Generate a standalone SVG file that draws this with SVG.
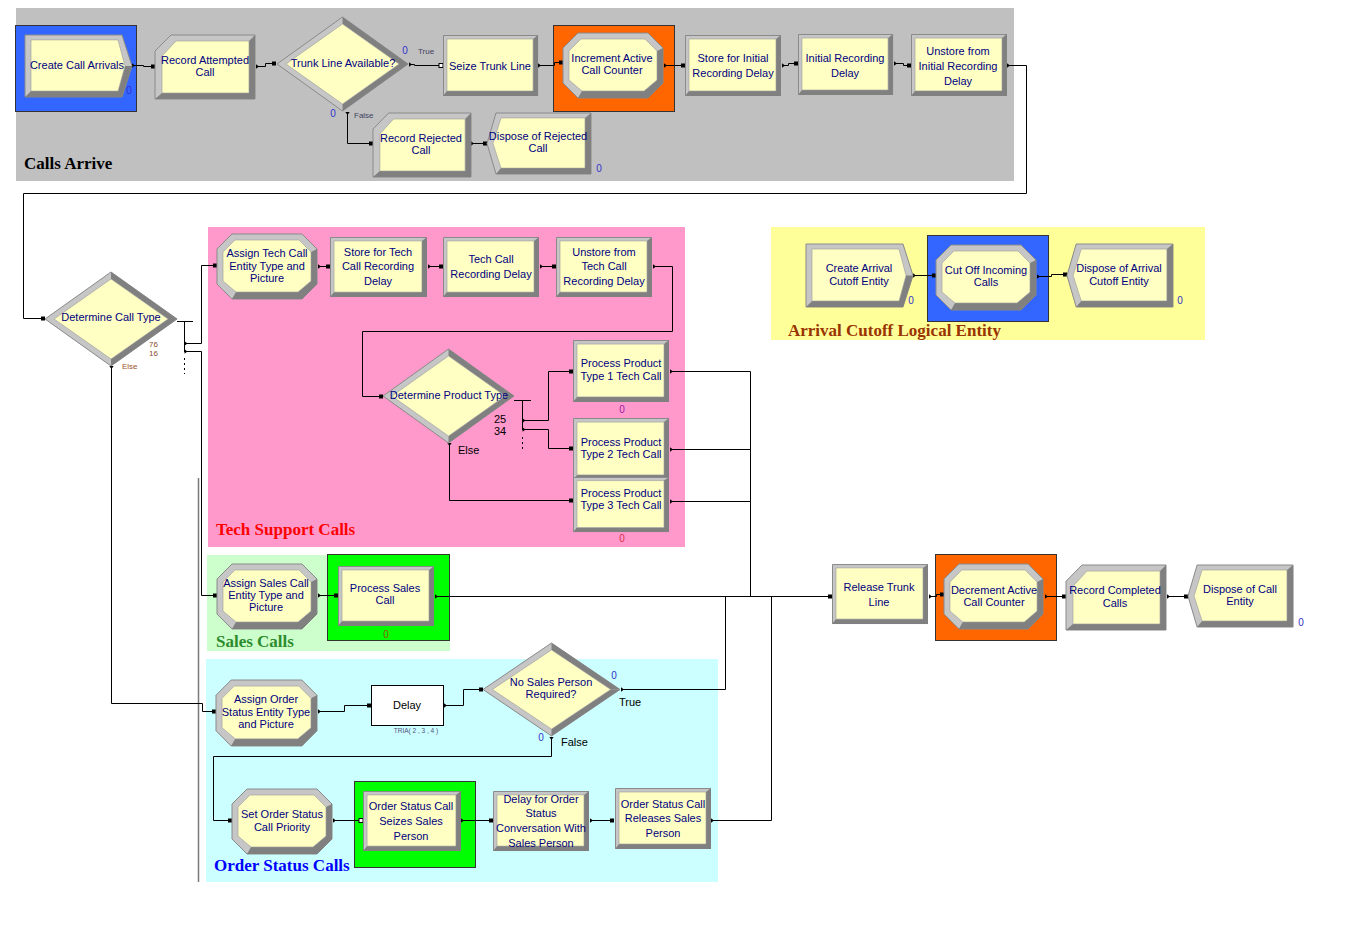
<svg xmlns="http://www.w3.org/2000/svg" xmlns:xlink="http://www.w3.org/1999/xlink" width="1360" height="940" viewBox="0 0 1360 940">
<style>
.t{font-family:"Liberation Sans",Arial,sans-serif;font-size:11px;fill:#00007f;text-anchor:middle}
.lbl{font-family:"Liberation Serif","Times New Roman",serif;font-weight:bold;font-size:17px}
.cnt{font-family:"Liberation Sans",Arial,sans-serif;font-size:10px;fill:#3333cc;text-anchor:middle}
.sm{font-family:"Liberation Sans",Arial,sans-serif;font-size:8px}
.bt{font-family:"Liberation Sans",Arial,sans-serif;font-size:11px;fill:#000}
.c{fill:none;stroke:#000;stroke-width:1}
.lt{fill:#c6c6c6;stroke:#8a8a8a;stroke-width:1}
.dk{fill:#808080}
.yl{fill:#ffffc4;stroke:#9a9a9a;stroke-width:0.6}
.hl{stroke:#333;stroke-width:1}
</style>
<defs>
<marker id="in" markerUnits="userSpaceOnUse" markerWidth="6" markerHeight="6" viewBox="0 0 6 6" refX="3" refY="3" orient="auto"><rect x="1" y="1" width="4" height="4" fill="#000"/></marker>
<marker id="inw" markerUnits="userSpaceOnUse" markerWidth="6" markerHeight="6" viewBox="0 0 6 6" refX="3" refY="3" orient="auto"><rect x="1" y="1" width="4" height="4" fill="#fff" stroke="#000" stroke-width="1"/></marker>
<marker id="out" markerUnits="userSpaceOnUse" markerWidth="6" markerHeight="6" viewBox="0 0 6 6" refX="0.5" refY="3" orient="auto"><path d="M0.5,0.8 L3.5,3 L0.5,5.2 Z" fill="#000"/></marker>
<g id="proc">
<rect x="0.5" y="0.5" width="95" height="60" class="lt" vector-effect="non-scaling-stroke"/>
<polygon points="96,0 96,61 0,61 4,56 91,56 91,4" class="dk"/>
<rect x="4" y="4" width="87" height="52" class="yl" vector-effect="non-scaling-stroke"/>
</g>
<g id="asg">
<polygon points="15,0 85,0 100,15 100,50 85,65 15,65 0,50 0,15" class="lt" vector-effect="non-scaling-stroke"/>
<polygon points="100,15 100,50 85,65 15,65 19,58 81,58 94,47 94,18" class="dk"/>
<polygon points="18,6 82,6 94,18 94,47 81,58 19,58 6,47 6,18" class="yl" vector-effect="non-scaling-stroke"/>
</g>
<g id="rec">
<polygon points="16,0 100,0 100,64 0,64 0,16" class="lt" vector-effect="non-scaling-stroke"/>
<polygon points="100,0 100,64 0,64 7,58 94,58 94,6" class="dk"/>
<polygon points="21,6 94,6 94,58 7,58 7,21" class="yl" vector-effect="non-scaling-stroke"/>
</g>
<g id="cre">
<polygon points="0,0 97,0 107,31.5 97,63 0,63" class="lt" vector-effect="non-scaling-stroke"/>
<polygon points="107,31.5 97,63 0,63 6,57 93,57 100,31.5" class="dk"/>
<polygon points="6,5 93,5 100,31.5 93,57 6,57" class="yl" vector-effect="non-scaling-stroke"/>
</g>
<g id="dis">
<polygon points="9,0 104,0 104,62 9,62 0,31" class="lt" vector-effect="non-scaling-stroke"/>
<polygon points="104,0 104,62 9,62 14,56 98,56 98,5" class="dk"/>
<polygon points="14,5 98,5 98,56 14,56 6,31" class="yl" vector-effect="non-scaling-stroke"/>
</g>
<g id="dec">
<polygon points="0,47 65.5,0 131,47 65.5,94" class="lt" vector-effect="non-scaling-stroke"/>
<polygon points="65.5,0 131,47 122,47 65.5,7" class="dk"/>
<polygon points="131,47 65.5,94 65.5,87 122,47" class="dk"/>
<polygon points="9,47 65.5,7 122,47 65.5,87" class="yl" vector-effect="non-scaling-stroke"/>
</g>
</defs>

<g id="panels">
<rect x="16" y="8" width="998" height="173" fill="#c0c0c0"/>
<rect x="208" y="227" width="477" height="320" fill="#ff99cc"/>
<rect x="771" y="227" width="434" height="113" fill="#ffff99"/>
<rect x="207" y="555" width="243" height="96" fill="#ccffcc"/>
<rect x="206" y="659" width="512" height="223" fill="#ccffff"/>
<rect x="15.5" y="25.5" width="121" height="86" fill="#3366ff" class="hl"/>
<rect x="553.5" y="25.5" width="121" height="86" fill="#ff6600" class="hl"/>
<rect x="927.5" y="235.5" width="121" height="86" fill="#3366ff" class="hl"/>
<rect x="327.5" y="554.5" width="122" height="86" fill="#00ff00" class="hl"/>
<rect x="935.5" y="554.5" width="121" height="86" fill="#ff6600" class="hl"/>
<rect x="354.5" y="781.5" width="121" height="86" fill="#00ff00" class="hl"/>
<line x1="198.5" y1="478" x2="198.5" y2="882" stroke="#7a7a7a" stroke-width="1.5"/>
</g>

<g id="connectors">
<path class="c" d="M132,65.5 H143.5 V66.5 H153" marker-start="url(#out)" marker-end="url(#in)"/>
<path class="c" d="M256,66.5 H265.5 V63.5 H274" marker-start="url(#out)" marker-end="url(#in)"/>
<path class="c" d="M409,64.5 H414.5 V65.5 H441" marker-start="url(#out)" marker-end="url(#inw)"/>
<path class="c" d="M347.5,112 V143.5 H371" marker-start="url(#out)" marker-end="url(#in)"/>
<path class="c" d="M471,143.5 H485" marker-start="url(#out)" marker-end="url(#in)"/>
<path class="c" d="M538,65.5 H554.5 V62.5 H561" marker-start="url(#out)" marker-end="url(#in)"/>
<path class="c" d="M664,65.5 H683" marker-start="url(#out)" marker-end="url(#in)"/>
<path class="c" d="M782,65.5 H788.5 V63.5 H796" marker-start="url(#out)" marker-end="url(#in)"/>
<path class="c" d="M894,63.5 H903.5 V65.5 H909" marker-start="url(#out)" marker-end="url(#in)"/>
<path class="c" d="M1007,65.5 H1026.5 V193.5 H23.5 V318.5 H43" marker-start="url(#out)" marker-end="url(#in)"/>
<path class="c" d="M177,321.5 H193 M184.5,321.5 V352"/>
<path class="c" d="M184.5,358 V374" stroke-dasharray="2,3"/>
<path class="c" d="M184.5,343.5 H201.5 V265.5 H215" marker-start="url(#out)" marker-end="url(#in)"/>
<path class="c" d="M184.5,351.5 H201.5 V595.5 H215" marker-start="url(#out)" marker-end="url(#in)"/>
<path class="c" d="M111.5,366 V703.5 H202.5 V711.5 H214" marker-start="url(#out)" marker-end="url(#in)"/>
<path class="c" d="M318,266.5 H328" marker-start="url(#out)" marker-end="url(#in)"/>
<path class="c" d="M428,266.5 H441" marker-start="url(#out)" marker-end="url(#in)"/>
<path class="c" d="M540,266.5 H554" marker-start="url(#out)" marker-end="url(#in)"/>
<path class="c" d="M653,266.5 H672.5 V331.5 H362.5 V396.5 H381" marker-start="url(#out)" marker-end="url(#in)"/>
<path class="c" d="M514,400.5 H531 M522.5,400.5 V430"/>
<path class="c" d="M522.5,437 V452" stroke-dasharray="2,3"/>
<path class="c" d="M522.5,420.5 H548.5 V371.5 H571" marker-start="url(#out)" marker-end="url(#in)"/>
<path class="c" d="M522.5,429.5 H548.5 V448.5 H571" marker-start="url(#out)" marker-end="url(#in)"/>
<path class="c" d="M449.5,443 V500.5 H571" marker-start="url(#out)" marker-end="url(#in)"/>
<path class="c" d="M670,371.5 H750.5" marker-start="url(#out)"/>
<path class="c" d="M670,449.5 H750.5" marker-start="url(#out)"/>
<path class="c" d="M670,501.5 H750.5" marker-start="url(#out)"/>
<path class="c" d="M750.5,371.5 V596.5"/>
<path class="c" d="M318,595.5 H336" marker-start="url(#out)" marker-end="url(#in)"/>
<path class="c" d="M435,596.5 H830" marker-start="url(#out)" marker-end="url(#in)"/>
<path class="c" d="M621,689.5 H725.5 V596.5" marker-start="url(#out)"/>
<path class="c" d="M711,820.5 H771.5 V596.5" marker-start="url(#out)"/>
<path class="c" d="M929,596.5 H936.5 V594.5 H942" marker-start="url(#out)" marker-end="url(#in)"/>
<path class="c" d="M1045,596.5 H1064" marker-start="url(#out)" marker-end="url(#in)"/>
<path class="c" d="M1167,596.5 H1186" marker-start="url(#out)" marker-end="url(#in)"/>
<path class="c" d="M318,711.5 H344.5 V705.5 H369" marker-start="url(#out)" marker-end="url(#in)"/>
<path class="c" d="M444,705.5 H463.5 V689.5 H481" marker-start="url(#out)" marker-end="url(#in)"/>
<path class="c" d="M551.5,737 V756.5 H213.5 V820.5 H230" marker-start="url(#out)" marker-end="url(#in)"/>
<path class="c" d="M333,820.5 H361" marker-start="url(#out)" marker-end="url(#inw)"/>
<path class="c" d="M461,820.5 H491" marker-start="url(#out)" marker-end="url(#in)"/>
<path class="c" d="M590,820.5 H612" marker-start="url(#out)" marker-end="url(#in)"/>
<path class="c" d="M913,275.5 H934" marker-start="url(#out)" marker-end="url(#in)"/>
<path class="c" d="M1037,276.5 H1051.5 V274.5 H1065" marker-start="url(#out)" marker-end="url(#in)"/>
</g>

<g id="n_create_call_arrivals"><use href="#cre" transform="translate(25,35) scale(1,0.984)"/><text class="t" x="77" y="69">Create Call Arrivals</text><text class="cnt" x="129" y="94">0</text></g>
<g id="n_record_attempted"><use href="#rec" transform="translate(155,35)"/><text class="t" x="205" y="64">Record Attempted</text><text class="t" x="205" y="76">Call</text></g>
<g id="n_trunk_available"><use href="#dec" transform="translate(277,17)"/><text class="t" x="343" y="67">Trunk Line Available?</text><text class="cnt" x="405" y="54">0</text><text class="sm" x="418" y="54" fill="#404060" font-size="7">True</text><text class="cnt" x="333" y="117">0</text><text class="sm" x="354" y="118" fill="#404060" font-size="7">False</text></g>
<g id="n_seize_trunk"><use href="#proc" transform="translate(443,35) scale(0.99,1)"/><text class="t" x="490" y="70">Seize Trunk Line</text></g>
<g id="n_increment"><use href="#asg" transform="translate(563,33)"/><text class="t" x="612" y="62">Increment Active</text><text class="t" x="612" y="74">Call Counter</text></g>
<g id="n_store_initial"><use href="#proc" transform="translate(685,35)"/><text class="t" x="733" y="62">Store for Initial</text><text class="t" x="733" y="77">Recording Delay</text></g>
<g id="n_initial_delay"><use href="#proc" transform="translate(798,34) scale(0.99,1)"/><text class="t" x="845" y="62">Initial Recording</text><text class="t" x="845" y="77">Delay</text></g>
<g id="n_unstore_initial"><use href="#proc" transform="translate(911,34) scale(1,1.016)"/><text class="t" x="958" y="55">Unstore from</text><text class="t" x="958" y="70">Initial Recording</text><text class="t" x="958" y="85">Delay</text></g>
<g id="n_record_rejected"><use href="#rec" transform="translate(373,113) scale(0.98,1)"/><text class="t" x="421" y="142">Record Rejected</text><text class="t" x="421" y="154">Call</text></g>
<g id="n_dispose_rejected"><use href="#dis" transform="translate(487,113) scale(1,0.984)"/><text class="t" x="538" y="140">Dispose of Rejected</text><text class="t" x="538" y="152">Call</text><text class="cnt" x="599" y="172">0</text></g>

<g id="n_determine_call_type"><use href="#dec" transform="translate(45,272) scale(1.008,1)"/><text class="t" x="111" y="321">Determine Call Type</text><text class="sm" x="149" y="347" fill="#8b4a2a">76</text><text class="sm" x="149" y="356" fill="#8b4a2a">16</text><text class="sm" x="122" y="369" fill="#a0522d">Else</text></g>
<g id="n_assign_tech"><use href="#asg" transform="translate(217,234)"/><text class="t" x="267" y="257">Assign Tech Call</text><text class="t" x="267" y="270">Entity Type and</text><text class="t" x="267" y="282">Picture</text></g>
<g id="n_store_tech"><use href="#proc" transform="translate(330,237) scale(1.01,0.984)"/><text class="t" x="378" y="256">Store for Tech</text><text class="t" x="378" y="270">Call Recording</text><text class="t" x="378" y="285">Delay</text></g>
<g id="n_tech_delay"><use href="#proc" transform="translate(443,237) scale(1,0.984)"/><text class="t" x="491" y="263">Tech Call</text><text class="t" x="491" y="278">Recording Delay</text></g>
<g id="n_unstore_tech"><use href="#proc" transform="translate(556,237) scale(1,0.984)"/><text class="t" x="604" y="256">Unstore from</text><text class="t" x="604" y="270">Tech Call</text><text class="t" x="604" y="285">Recording Delay</text></g>
<g id="n_product_type"><use href="#dec" transform="translate(383,349)"/><text class="t" x="449" y="399">Determine Product Type</text><text class="bt" x="494" y="423">25</text><text class="bt" x="494" y="435">34</text><text class="bt" x="458" y="454">Else</text></g>
<g id="n_pp1"><use href="#proc" transform="translate(573,340) scale(1,1.016)"/><text class="t" x="621" y="367">Process Product</text><text class="t" x="621" y="380">Type 1 Tech Call</text><text class="cnt" x="622" y="413" style="fill:#a020a0">0</text></g>
<g id="n_pp2"><use href="#proc" transform="translate(573,418) scale(1,1.016)"/><text class="t" x="621" y="446">Process Product</text><text class="t" x="621" y="458">Type 2 Tech Call</text></g>
<g id="n_pp3"><use href="#proc" transform="translate(573,477) scale(1,0.902)"/><text class="t" x="621" y="497">Process Product</text><text class="t" x="621" y="509">Type 3 Tech Call</text><text class="cnt" x="622" y="542" style="fill:#e0304a">0</text></g>

<g id="n_create_cutoff"><use href="#cre" transform="translate(806,244)"/><text class="t" x="859" y="272">Create Arrival</text><text class="t" x="859" y="285">Cutoff Entity</text><text class="cnt" x="911" y="304">0</text></g>
<g id="n_cutoff"><use href="#asg" transform="translate(936,245)"/><text class="t" x="986" y="274">Cut Off Incoming</text><text class="t" x="986" y="286">Calls</text></g>
<g id="n_dispose_cutoff"><use href="#dis" transform="translate(1067,244) scale(1.019,1.016)"/><text class="t" x="1119" y="272">Dispose of Arrival</text><text class="t" x="1119" y="285">Cutoff Entity</text><text class="cnt" x="1180" y="304">0</text></g>

<g id="n_assign_sales"><use href="#asg" transform="translate(217,564)"/><text class="t" x="266" y="587">Assign Sales Call</text><text class="t" x="266" y="599">Entity Type and</text><text class="t" x="266" y="611">Picture</text></g>
<g id="n_process_sales"><use href="#proc" transform="translate(338,566) scale(1,0.984)"/><text class="t" x="385" y="592">Process Sales</text><text class="t" x="385" y="604">Call</text><text class="cnt" x="386" y="638" style="fill:#8b5a00">0</text></g>

<g id="n_release_trunk"><use href="#proc" transform="translate(832,564) scale(1,0.984)"/><text class="t" x="879" y="591">Release Trunk</text><text class="t" x="879" y="606">Line</text></g>
<g id="n_decrement"><use href="#asg" transform="translate(944,564) scale(0.99,1)"/><text class="t" x="994" y="594">Decrement Active</text><text class="t" x="994" y="606">Call Counter</text></g>
<g id="n_record_completed"><use href="#rec" transform="translate(1066,565) scale(1,1.016)"/><text class="t" x="1115" y="594">Record Completed</text><text class="t" x="1115" y="607">Calls</text></g>
<g id="n_dispose_call"><use href="#dis" transform="translate(1188,565) scale(1.01,1)"/><text class="t" x="1240" y="593">Dispose of Call</text><text class="t" x="1240" y="605">Entity</text><text class="cnt" x="1301" y="626">0</text></g>

<g id="n_assign_order"><use href="#asg" transform="translate(216,680) scale(1.01,1.015)"/><text class="t" x="266" y="703">Assign Order</text><text class="t" x="266" y="716">Status Entity Type</text><text class="t" x="266" y="728">and Picture</text></g>
<g id="n_delay"><rect x="371.5" y="685.5" width="72" height="40" fill="#fff" stroke="#000"/><text x="407" y="709" style="font-family:'Liberation Sans',Arial,sans-serif;font-size:11px;fill:#000;text-anchor:middle">Delay</text><text x="416" y="733" style="font-family:'Liberation Sans',Arial,sans-serif;font-size:6.5px;fill:#505078;text-anchor:middle">TRIA( 2 , 3 , 4 )</text></g>
<g id="n_no_sales"><use href="#dec" transform="translate(483,643) scale(1.046,0.989)"/><text class="t" x="551" y="686">No Sales Person</text><text class="t" x="551" y="698">Required?</text><text class="cnt" x="614" y="679">0</text><text class="bt" x="619" y="706">True</text><text class="cnt" x="541" y="741">0</text><text class="bt" x="561" y="746">False</text></g>
<g id="n_set_order"><use href="#asg" transform="translate(232,789)"/><text class="t" x="282" y="818">Set Order Status</text><text class="t" x="282" y="831">Call Priority</text></g>
<g id="n_seize_os"><use href="#proc" transform="translate(363,791) scale(1.021,0.984)"/><text class="t" x="411" y="810">Order Status Call</text><text class="t" x="411" y="825">Seizes Sales</text><text class="t" x="411" y="840">Person</text></g>
<g id="n_delay_os"><use href="#proc" transform="translate(493,791) scale(1,0.984)"/><text class="t" x="541" y="803">Delay for Order</text><text class="t" x="541" y="817">Status</text><text class="t" x="541" y="832">Conversation With</text><text class="t" x="541" y="847">Sales Person</text></g>
<g id="n_release_os"><use href="#proc" transform="translate(615,788)"/><text class="t" x="663" y="808">Order Status Call</text><text class="t" x="663" y="822">Releases Sales</text><text class="t" x="663" y="837">Person</text></g>

<g id="labels">
<text class="lbl" x="24" y="169" fill="#000">Calls Arrive</text>
<text class="lbl" x="216" y="535" fill="#ff0000">Tech Support Calls</text>
<text class="lbl" x="788" y="336" fill="#993300">Arrival Cutoff Logical Entity</text>
<text class="lbl" x="216" y="647" fill="#2e8b2e">Sales Calls</text>
<text class="lbl" x="214" y="871" fill="#0000ff">Order Status Calls</text>
</g>
</svg>
